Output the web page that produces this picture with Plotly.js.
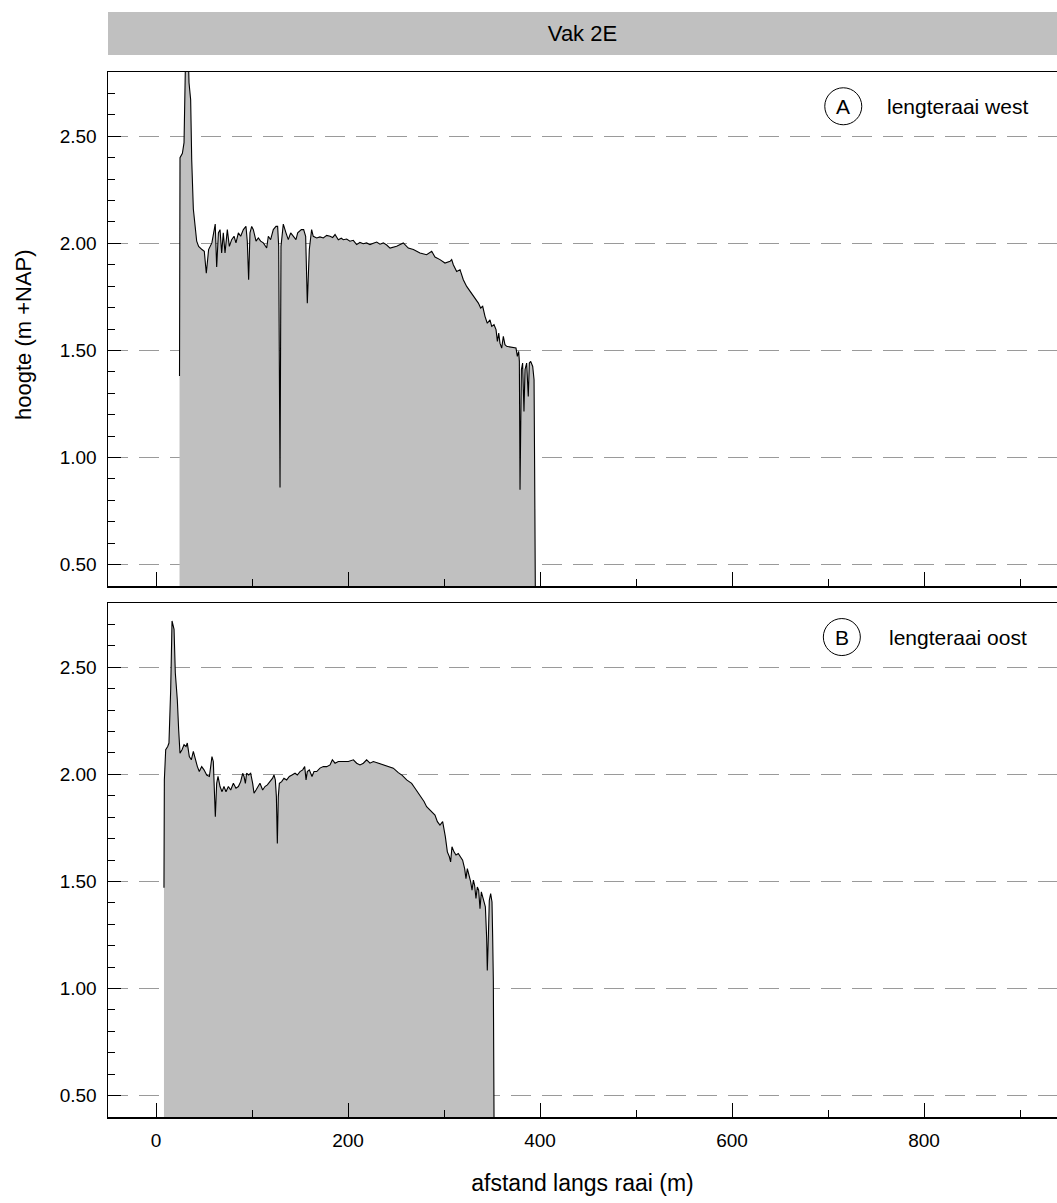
<!DOCTYPE html>
<html>
<head>
<meta charset="utf-8">
<script src="https://cdn.plot.ly/plotly-3.0.1.min.js"></script>
<style>html,body{margin:0;padding:0;background:#fff;}#chart{width:1057px;height:1203px;}</style>
</head>
<body>
<div id="chart"></div>
<script>
// Panel A: lengteraai west
const xA = [24.5, 25.0, 27.5, 29.2, 30.9, 33.5, 34.4, 36.1, 37.2, 38.9, 42.4, 44.4, 47.9, 50.3, 52.4, 54.8, 58.2, 61.7, 63.2, 65.0, 66.7, 68.4, 70.1, 71.9, 74.3, 76.4, 78.8, 81.3, 83.3, 85.8, 88.2, 91.0, 93.7, 95.1, 96.5, 97.9, 99.7, 101.4, 104.2, 106.6, 109.0, 111.8, 115.3, 117.0, 119.4, 122.2, 125.0, 126.7, 127.8, 129.2, 130.2, 132.6, 135.4, 137.8, 140.3, 143.1, 145.8, 147.6, 151.4, 153.8, 155.9, 157.6, 159.7, 162.1, 163.8, 167.4, 170.8, 174.3, 177.8, 181.3, 184.0, 186.5, 189.9, 193.0, 195.1, 198.6, 202.0, 205.5, 209.0, 212.4, 215.9, 219.4, 222.9, 226.4, 229.9, 233.3, 236.8, 240.3, 243.8, 250.7, 257.6, 262.8, 268.1, 275.0, 281.9, 287.2, 290.6, 295.8, 301.0, 306.3, 308.0, 309.7, 313.2, 316.7, 320.1, 323.6, 327.1, 330.6, 333.3, 335.8, 338.2, 340.3, 342.7, 345.1, 347.9, 349.7, 352.1, 354.2, 355.6, 357.0, 358.3, 360.1, 361.8, 363.5, 365.3, 368.8, 372.2, 375.0, 376.4, 377.8, 378.5, 379.2, 380.6, 381.9, 383.3, 384.4, 386.1, 387.8, 388.9, 390.3, 392.4, 393.8, 394.4, 395.1];
const yA = [1.38, 2.40, 2.42, 2.47, 2.90, 2.90, 2.75, 2.67, 2.39, 2.16, 2.01, 1.986, 1.971, 1.963, 1.86, 1.971, 2.002, 2.090, 1.89, 2.049, 2.064, 1.955, 2.049, 1.955, 2.064, 1.986, 2.017, 2.033, 2.002, 2.049, 2.033, 2.064, 2.079, 2.010, 1.83, 2.049, 2.079, 2.064, 2.010, 2.025, 2.010, 2.002, 1.978, 2.033, 2.017, 2.064, 2.079, 2.079, 1.986, 0.86, 1.986, 2.090, 2.049, 2.017, 2.049, 2.033, 2.017, 2.049, 2.064, 2.064, 2.033, 1.72, 1.971, 2.064, 2.033, 2.025, 2.030, 2.025, 2.037, 2.033, 2.027, 2.041, 2.017, 2.024, 2.017, 2.020, 2.010, 2.014, 1.994, 2.004, 1.998, 2.002, 1.994, 2.000, 2.006, 1.996, 2.002, 1.992, 1.978, 1.986, 2.002, 1.978, 1.971, 1.955, 1.947, 1.963, 1.936, 1.924, 1.908, 1.916, 1.924, 1.900, 1.869, 1.877, 1.830, 1.799, 1.776, 1.752, 1.737, 1.721, 1.698, 1.706, 1.659, 1.627, 1.643, 1.612, 1.620, 1.597, 1.542, 1.581, 1.534, 1.511, 1.566, 1.527, 1.519, 1.516, 1.511, 1.511, 1.472, 1.495, 1.449, 0.849, 1.410, 1.441, 1.215, 1.410, 1.441, 1.285, 1.441, 1.449, 1.425, 1.363, 0.958, 0.40];

// Panel B: lengteraai oost
const xB = [8.3, 8.7, 10.1, 12.2, 13.5, 15.3, 16.7, 18.8, 20.1, 22.2, 23.6, 25.0, 27.1, 29.2, 31.3, 32.6, 34.7, 36.8, 38.9, 41.0, 43.1, 45.1, 47.6, 50.0, 52.8, 55.6, 58.3, 59.7, 60.8, 61.8, 63.2, 64.6, 66.7, 68.8, 70.8, 72.9, 75.4, 77.8, 80.6, 83.3, 85.8, 88.2, 90.3, 91.7, 93.1, 94.4, 96.5, 98.6, 100.7, 102.1, 104.2, 106.3, 108.3, 111.1, 113.5, 116.0, 118.8, 121.5, 122.9, 124.3, 125.4, 126.4, 127.4, 128.5, 130.9, 133.3, 136.1, 138.9, 141.7, 144.8, 147.2, 150.0, 152.8, 154.9, 156.3, 157.6, 159.7, 162.5, 164.6, 167.4, 170.8, 174.3, 177.8, 181.3, 183.7, 186.5, 189.9, 195.1, 200.4, 205.6, 209.0, 212.5, 216.0, 219.4, 222.9, 226.4, 231.6, 236.8, 242.0, 247.2, 252.4, 256.5, 261.1, 266.3, 269.8, 273.3, 276.7, 279.2, 281.9, 285.4, 288.2, 290.6, 293.1, 295.8, 298.6, 300.0, 301.4, 303.5, 305.6, 306.9, 308.3, 310.4, 312.5, 314.9, 317.4, 319.4, 321.5, 322.9, 324.3, 326.4, 327.8, 329.2, 330.6, 331.9, 333.3, 334.7, 336.1, 337.5, 338.9, 340.3, 341.7, 343.1, 344.4, 345.1, 346.2, 347.2, 348.6, 350.0, 350.7, 351.4, 352.1];
const yB = [1.47, 1.974, 2.115, 2.130, 2.146, 2.396, 2.716, 2.677, 2.474, 2.349, 2.208, 2.099, 2.115, 2.138, 2.130, 2.146, 2.083, 2.068, 2.107, 2.068, 2.036, 2.013, 2.036, 2.021, 1.997, 1.990, 2.083, 2.060, 1.927, 1.802, 1.958, 1.990, 1.943, 1.919, 1.943, 1.919, 1.943, 1.927, 1.958, 1.935, 1.943, 1.966, 2.005, 1.990, 1.958, 2.005, 1.997, 2.005, 1.958, 1.912, 1.927, 1.943, 1.958, 1.927, 1.943, 1.951, 1.966, 1.982, 1.997, 1.974, 1.896, 1.677, 1.896, 1.958, 1.966, 1.982, 1.974, 1.990, 1.997, 2.005, 1.997, 2.013, 2.021, 2.036, 1.974, 2.013, 2.021, 1.990, 2.013, 2.013, 2.029, 2.036, 2.036, 2.044, 2.068, 2.052, 2.060, 2.060, 2.060, 2.068, 2.052, 2.044, 2.052, 2.068, 2.052, 2.060, 2.052, 2.044, 2.036, 2.029, 2.008, 1.995, 1.974, 1.958, 1.935, 1.912, 1.888, 1.873, 1.849, 1.833, 1.818, 1.810, 1.779, 1.763, 1.779, 1.748, 1.709, 1.638, 1.615, 1.591, 1.662, 1.638, 1.623, 1.630, 1.615, 1.599, 1.560, 1.513, 1.560, 1.529, 1.498, 1.459, 1.506, 1.482, 1.420, 1.474, 1.459, 1.373, 1.451, 1.428, 1.396, 1.381, 1.240, 1.084, 1.240, 1.412, 1.443, 1.404, 1.240, 1.037, 0.40];

const yTickVals = [0.5, 1.0, 1.5, 2.0, 2.5];
const yTickText = ["0.50", "1.00", "1.50", "2.00", "2.50"];
const xTickVals = [0, 200, 400, 600, 800];
const panelLabels = ["A", "B"];
const panelNames = ["lengteraai west", "lengteraai oost"];
const headerText = "Vak 2E";
const xTitle = "afstand langs raai (m)";
const yTitle = "hoogte (m +NAP)";

const FONT = "Liberation Sans, Arial, sans-serif";
const W = 1057, H = 1203;
const mL = 108, mT = 72, mB = 86;
const plotH = H - mT - mB; // 1045
const topBottomPx = 586, botTopPx = 603, botBottomPx = 1117;
const yTopDomain = [(botBottomPx - topBottomPx) / plotH, 1];
const yBotDomain = [0, (botBottomPx - botTopPx) / plotH];
const pxToPaperY = p => (botBottomPx - p) / plotH;

function traceFor(x, y, xa, ya) {
  return {
    type: "scatter", mode: "lines", x: x, y: y, xaxis: xa, yaxis: ya,
    fill: "tozeroy", fillcolor: "#c0c0c0",
    line: {color: "#000000", width: 1.1}, hoverinfo: "skip", showlegend: false
  };
}

const xCommon = {
  range: [-50, 938.54], showline: true, linecolor: "#000", linewidth: 1.5, mirror: true,
  ticks: "inside", tickvals: xTickVals, ticklen: 14, tickwidth: 1, tickcolor: "#000",
  minor: {ticks: "inside", dtick: 100, tick0: 0, ticklen: 7, tickwidth: 1, tickcolor: "#000", showgrid: false},
  showgrid: false, zeroline: false,
  tickfont: {family: FONT, size: 19, color: "#000"}
};
const yCommon = {
  range: [0.40, 2.80], showline: true, linecolor: "#000", linewidth: 1.5, mirror: false,
  ticks: "inside", tickvals: yTickVals, ticktext: yTickText, ticklen: 13, tickwidth: 1, tickcolor: "#000",
  minor: {ticks: "inside", dtick: 0.1, tick0: 0, ticklen: 7, tickwidth: 1, tickcolor: "#000", showgrid: false},
  showgrid: true, gridcolor: "#9a9a9a", gridwidth: 1.5, griddash: "20px,11px",
  zeroline: false, ticklabelstandoff: 6,
  tickfont: {family: FONT, size: 19, color: "#000"}
};

const layout = {
  width: W, height: H,
  margin: {l: mL, r: 0, t: mT, b: mB, pad: 0},
  paper_bgcolor: "#fff", plot_bgcolor: "#fff",
  font: {family: FONT, color: "#000"},
  title: {text: headerText, font: {family: FONT, size: 22, color: "#000"},
          x: 0.5, xref: "paper", xanchor: "center", y: 1 - 33.5 / H, yref: "container", yanchor: "middle"},
  xaxis: Object.assign({}, xCommon, {anchor: "y", showticklabels: false}),
  xaxis2: Object.assign({}, xCommon, {anchor: "y2", matches: "x", ticklabelstandoff: 6,
    title: {text: xTitle, font: {family: FONT, size: 23, color: "#000"}, standoff: 24}}),
  yaxis: Object.assign({}, yCommon, {domain: yTopDomain, anchor: "x"}),
  yaxis2: Object.assign({}, yCommon, {domain: yBotDomain, anchor: "x2"}),
  shapes: [
    {type: "rect", xref: "paper", yref: "paper", x0: 0, x1: 1,
     y0: pxToPaperY(55), y1: pxToPaperY(12), fillcolor: "#c0c0c0", line: {width: 0}, layer: "below"},
    {type: "circle", xref: "x", yref: "y", xsizemode: "pixel", ysizemode: "pixel",
     xanchor: 715.9, yanchor: 2.640, x0: -18.5, x1: 18.5, y0: -18.5, y1: 18.5, line: {color: "#000", width: 1}},
    {type: "circle", xref: "x2", yref: "y2", xsizemode: "pixel", ysizemode: "pixel",
     xanchor: 714.4, yanchor: 2.641, x0: -18.5, x1: 18.5, y0: -18.5, y1: 18.5, line: {color: "#000", width: 1}}
  ],
  annotations: [
    {text: panelLabels[0], xref: "x", yref: "y", x: 715.9, y: 2.640, showarrow: false,
     font: {family: FONT, size: 21, color: "#000"}, xanchor: "center", yanchor: "middle"},
    {text: panelNames[0], xref: "x", yref: "y", x: 759.4, y: 2.640, showarrow: false,
     font: {family: FONT, size: 21, color: "#000"}, xanchor: "left", yanchor: "middle"},
    {text: panelLabels[1], xref: "x2", yref: "y2", x: 714.4, y: 2.641, showarrow: false,
     font: {family: FONT, size: 21, color: "#000"}, xanchor: "center", yanchor: "middle"},
    {text: panelNames[1], xref: "x2", yref: "y2", x: 761.8, y: 2.641, showarrow: false,
     font: {family: FONT, size: 21, color: "#000"}, xanchor: "left", yanchor: "middle"},
    {text: yTitle, xref: "paper", yref: "paper", x: (23 - mL) / (W - mL), y: pxToPaperY(335),
     textangle: -90, showarrow: false, font: {family: FONT, size: 22, color: "#000"},
     xanchor: "center", yanchor: "middle"}
  ]
};

Plotly.newPlot("chart", [traceFor(xA, yA, "x", "y"), traceFor(xB, yB, "x2", "y2")], layout,
  {displayModeBar: false, staticPlot: true});
</script>
</body>
</html>
